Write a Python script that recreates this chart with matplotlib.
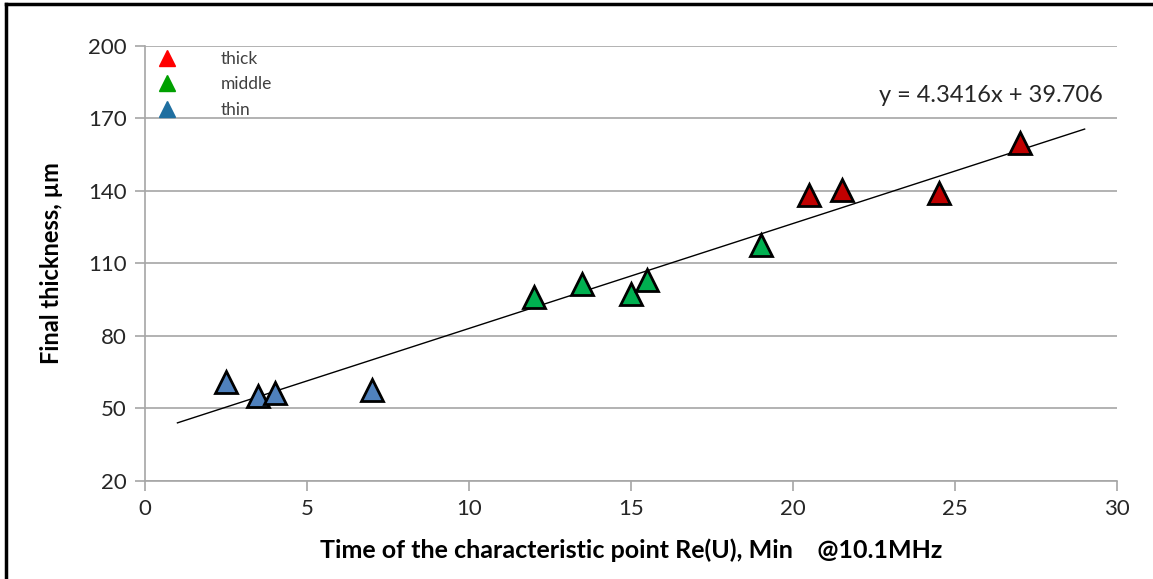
import matplotlib.pyplot as plt
from matplotlib.lines import Line2D
import numpy as np

# ── данные ──
thin_x = [2.5, 3.5, 4.0, 7.0]
thin_y = [61, 55, 56.5, 57.5]
middle_x = [12.0, 13.5, 15.0, 15.5, 19.0]
middle_y = [96, 101.5, 97.5, 103, 117.5]
thick_x = [20.5, 21.5, 24.5, 27.0]
thick_y = [138.5, 140.5, 139, 160]

fit_slope = 4.3416
fit_intercept = 39.706
fit_range = [1, 29]

CLR_THIN = '#4F81BD'
CLR_MID = '#00B050'
CLR_THICK = '#C00000'
CLR_GRID = '#A6A6A6'

plt.rcParams['font.family'] = ['Lato', 'DejaVu Sans']

fig = plt.figure(figsize=(11.53, 5.79), dpi=100)
ax = fig.add_axes([0.1258, 0.1693, 0.9688 - 0.1258, 0.9206 - 0.1693])

kw = dict(marker='^', linestyle='none', markersize=16,
          markeredgecolor='black', markeredgewidth=2, zorder=3)
ax.plot(thin_x, thin_y, color=CLR_THIN, **kw)
ax.plot(middle_x, middle_y, color=CLR_MID, **kw)
ax.plot(thick_x, thick_y, color=CLR_THICK, **kw)

fx = np.array(fit_range)
ax.plot(fx, fit_slope * fx + fit_intercept, color='black', linewidth=1, zorder=2)

ax.set_xlim(0, 30)
ax.set_ylim(20, 200)
ax.set_xticks(range(0, 31, 5))
ax.set_yticks(range(20, 201, 30))
ax.yaxis.grid(True, color=CLR_GRID, linewidth=1.2)
ax.set_axisbelow(True)
for s in ['top', 'right']:
    ax.spines[s].set_visible(False)
for s in ['left', 'bottom']:
    ax.spines[s].set_color(CLR_GRID)
    ax.spines[s].set_linewidth(1.2)
ax.tick_params(axis='both', direction='out', length=7, width=1.2,
               color=CLR_GRID, labelsize=16, labelcolor='#262626', pad=6)

ax.set_xlabel('Time of the characteristic point Re(U), Min    @10.1MHz',
              fontsize=18, fontweight='bold', labelpad=14)
ax.set_ylabel('Final thickness, µm', fontsize=17, fontweight='bold', labelpad=18)

ax.text(0.985, 0.885, f'y = {fit_slope}x + {fit_intercept}', transform=ax.transAxes,
        ha='right', va='center', fontsize=17, color='#262626')

handles = [
    Line2D([], [], marker='^', linestyle='none', color='#FF0000', markersize=11, label='thick'),
    Line2D([], [], marker='^', linestyle='none', color='#00A000', markersize=11, label='middle'),
    Line2D([], [], marker='^', linestyle='none', color='#1F6FA0', markersize=11, label='thin'),
]
ax.legend(handles=handles, loc='upper left', bbox_to_anchor=(-0.0134, 1.025),
          frameon=False, fontsize=12.5, labelspacing=0.55, handletextpad=2.0,
          handlelength=2.2, labelcolor='#404040')

# рамка сверху и слева
fig.add_artist(Line2D([0.005, 1.0], [0.993, 0.993], transform=fig.transFigure,
                      color='black', linewidth=2.5))
fig.add_artist(Line2D([0.005, 0.005], [0.0, 0.993], transform=fig.transFigure,
                      color='black', linewidth=2.5))

plt.savefig('out.png', dpi=100)
